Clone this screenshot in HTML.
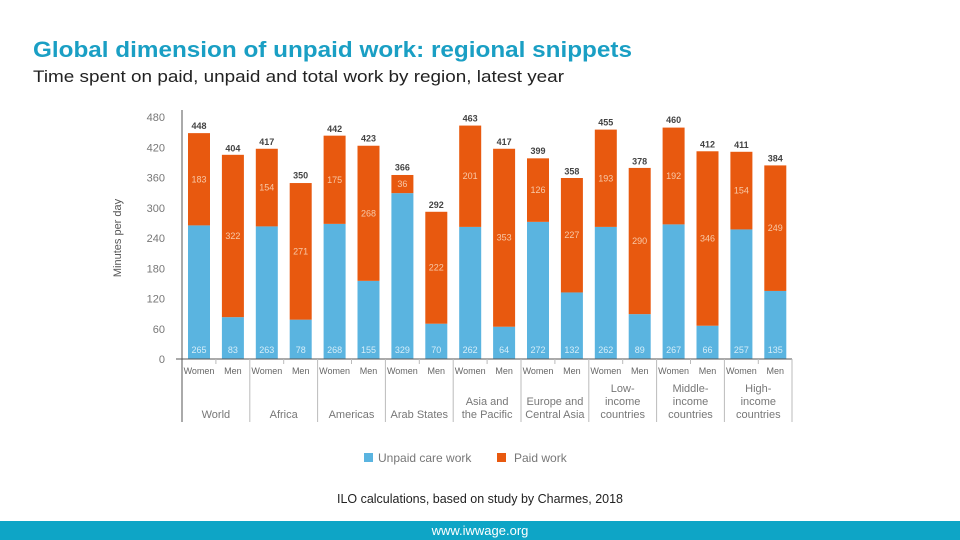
<!DOCTYPE html>
<html><head><meta charset="utf-8"><style>
html,body{margin:0;padding:0;background:#fff;width:960px;height:540px;overflow:hidden}
svg{display:block;font-family:"Liberation Sans",sans-serif}
</style></head><body>
<svg id="c" width="960" height="540" viewBox="0 0 960 540">
<text x="33" y="57" font-size="22" font-weight="bold" fill="#1a9fc4" textLength="599" lengthAdjust="spacingAndGlyphs">Global dimension of unpaid work: regional snippets</text>
<text x="33" y="82" font-size="17" fill="#222" textLength="531" lengthAdjust="spacingAndGlyphs">Time spent on paid, unpaid and total work by region, latest year</text>
<g id="plot"></g>
<rect x="364" y="453" width="9" height="9" fill="#5ab4e0"/>
<text x="378" y="462" font-size="12" fill="#777">Unpaid care work</text>
<rect x="497" y="453" width="9" height="9" fill="#e8590f"/>
<text x="514" y="462" font-size="12" fill="#777">Paid work</text>
<text x="480" y="503" font-size="13" fill="#222" text-anchor="middle" textLength="286" lengthAdjust="spacingAndGlyphs">ILO calculations, based on study by Charmes, 2018</text>
<rect x="0" y="521" width="960" height="19" fill="#0ea5c6"/>
<text x="480" y="535" font-size="13" fill="#fff" text-anchor="middle">www.iwwage.org</text>
</svg>
<script>
const regions = ["World","Africa","Americas","Arab States","Asia and|the Pacific","Europe and|Central Asia","Low-|income|countries","Middle-|income|countries","High-|income|countries"];
const sexes = ["Women","Men"];
const unpaid = [265,83,263,78,268,155,329,70,262,64,272,132,262,89,267,66,257,135];
const paid = [183,322,154,271,175,268,36,222,201,353,126,227,193,290,192,346,154,249];
const totals = [448,404,417,350,442,423,366,292,463,417,399,358,455,378,460,412,411,384];
const yTicks = [0,60,120,180,240,300,360,420,480];

const NS="http://www.w3.org/2000/svg";
const g=document.getElementById('plot');
const y0=359, y480=117;
const y=v=>y0-(v/480)*(y0-y480);
const barX=i=>188+i*33.9;
const BW=22;
function el(t,a,txt){const e=document.createElementNS(NS,t);for(const k in a)e.setAttribute(k,a[k]);if(txt!==undefined)e.textContent=txt;g.appendChild(e);return e;}

yTicks.forEach(v=>{
  const t=el('text',{x:165,y:y(v)+4,'font-size':11,fill:'#777','text-anchor':'end'},v);
  
  
});
const yt=el('text',{transform:'translate(121,238) rotate(-90)','font-size':11,fill:'#555','text-anchor':'middle'},'Minutes per day');



unpaid.forEach((u,i)=>{
  const p=paid[i], x=barX(i);
  const b=el('rect',{x:x,y:y(u),width:BW,height:y0-y(u),fill:'#5ab4e0'});
  
  
  const o=el('rect',{x:x,y:y(u+p),width:BW,height:y(u)-y(u+p),fill:'#e8590f'});
  
  
  const lu=el('text',{x:x+BW/2,y:353,'font-size':9,fill:'#d6eef9','text-anchor':'middle'},u);
  
  
  const lp=el('text',{x:x+BW/2,y:(y(u)+y(u+p))/2+3,'font-size':9,fill:'#f8c9a8','text-anchor':'middle'},p);
  
  
  const lt=el('text',{x:x+BW/2,y:y(totals[i])-4,'font-size':9,'font-weight':'bold',fill:'#444','text-anchor':'middle'},totals[i]);
  
  
  const ls=el('text',{x:x+BW/2,y:374,'font-size':9,fill:'#666','text-anchor':'middle'},sexes[i%2]);
  
  
});

const ax=el('line',{x1:182,y1:110,x2:182,y2:422,stroke:'#555','stroke-width':1});


const bx=el('line',{x1:176,y1:y0,x2:792,y2:y0,stroke:'#555','stroke-width':1});



regions.forEach((r,k)=>{
  const left=182+k*67.8, cx=left+33.9;
  if(k>0){
    const s=el('line',{x1:left,y1:y0,x2:left,y2:422,stroke:'#bbb','stroke-width':1});
    
    
  }
  const tk=el('line',{x1:cx,y1:y0,x2:cx,y2:364,stroke:'#bbb','stroke-width':1});
  
  
  const lines=r.split('|');
  lines.forEach((ln,j)=>{
    const t=el('text',{x:cx,y:422-4-(lines.length-1-j)*13,'font-size':11,fill:'#777','text-anchor':'middle'},ln);
    
    
  });
});
const re=el('line',{x1:792,y1:y0,x2:792,y2:422,stroke:'#bbb','stroke-width':1});


</script>
</body></html>
